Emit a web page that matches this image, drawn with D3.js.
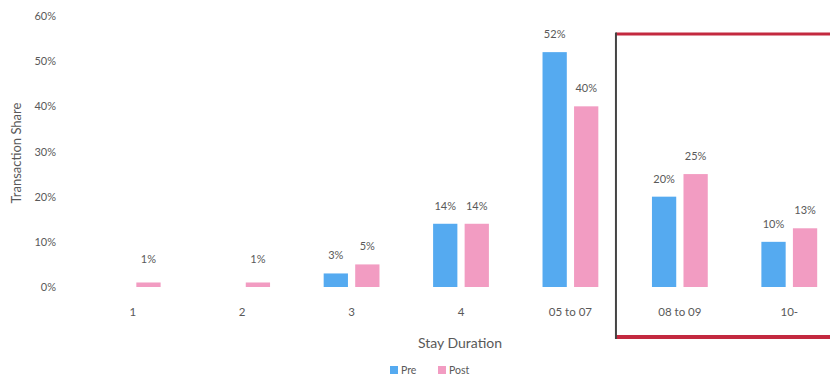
<!DOCTYPE html>
<html>
<head>
<meta charset="utf-8">
<script src="https://cdn.jsdelivr.net/npm/d3@7"></script>
<style>
  html, body { margin: 0; padding: 0; background: #fff; }
  svg { display: block; }
  text { font-family: Lato, "Open Sans", sans-serif; fill: #595959; }
</style>
</head>
<body>
<svg id="chart" width="830" height="380"></svg>
<script>
// Stay duration buckets and transaction share (%) before / after
const categories = ["1", "2", "3", "4", "05 to 07", "08 to 09", "10-"];
const preValues  = [0, 0, 3, 14, 52, 20, 10];
const postValues = [1, 1, 5, 14, 40, 25, 13];
const seriesNames = ["Pre", "Post"];
const yTicks = [0, 10, 20, 30, 40, 50, 60];
const highlighted = ["08 to 09", "10-"];

const colors = { Pre: "#55aaf0", Post: "#f29cc2" };

const svg = d3.select("#chart");

const x0 = d3.scaleBand()
  .domain(categories)
  .range([78, 844])
  .paddingInner(0.49)
  .paddingOuter(0.245);

const x1 = d3.scaleBand()
  .domain(seriesNames)
  .range([0, x0.bandwidth()])
  .paddingInner(0.23);

const y = d3.scaleLinear().domain([0, 60]).range([287, 16]);

const rows = categories.map((c, i) => ({
  cat: c,
  vals: [
    { s: "Pre", v: preValues[i] },
    { s: "Post", v: postValues[i] }
  ]
}));

// Y axis labels only (no line, no ticks)
const yAxis = svg.append("g")
  .attr("transform", "translate(56,0)")
  .call(d3.axisLeft(y).tickValues(yTicks).tickFormat(d => d + "%").tickSize(0).tickPadding(0));
yAxis.select(".domain").remove();
yAxis.selectAll("text")
  .style("font-family", "Lato, sans-serif")
  .style("font-size", "11px")
  .attr("fill", "#767676");

// X axis labels
const xAxis = svg.append("g")
  .attr("transform", "translate(0,300)")
  .call(d3.axisBottom(x0).tickSize(0).tickPadding(8));
xAxis.select(".domain").remove();
xAxis.selectAll("text")
  .style("font-family", "Lato, sans-serif")
  .style("font-size", "11.5px")
  .attr("fill", "#666");

// Bars
const groups = svg.append("g").selectAll("g")
  .data(rows).join("g")
  .attr("transform", d => `translate(${x0(d.cat)},0)`);

groups.selectAll("rect")
  .data(d => d.vals).join("rect")
  .attr("x", d => x1(d.s))
  .attr("width", x1.bandwidth())
  .attr("y", d => y(d.v))
  .attr("height", d => y(0) - y(d.v))
  .attr("fill", d => colors[d.s]);

// Value labels
groups.selectAll("text.val")
  .data(d => d.vals.filter(e => e.v > 0)).join("text")
  .attr("class", "val")
  .attr("x", d => x1(d.s) + x1.bandwidth() / 2)
  .attr("y", d => y(d.v) - (d.v < 2 ? 19 : 14))
  .attr("text-anchor", "middle")
  .style("font-size", "11px")
  .attr("fill", "#404040")
  .text(d => d.v + "%");

// Axis titles
svg.append("text")
  .attr("transform", "translate(21,153) rotate(-90)")
  .attr("text-anchor", "middle")
  .style("font-size", "13px")
  .attr("fill", "#8a8a8a")
  .text("Transaction Share");

svg.append("text")
  .attr("x", 460)
  .attr("y", 348)
  .attr("text-anchor", "middle")
  .style("font-size", "14px")
  .attr("fill", "#595959")
  .text("Stay Duration");

// Legend
const legend = svg.append("g").attr("transform", "translate(390,366)");
const legendItems = legend.selectAll("g")
  .data(seriesNames).join("g")
  .attr("transform", (d, i) => `translate(${i * 48},0)`);
legendItems.append("rect")
  .attr("width", 8).attr("height", 8)
  .attr("fill", d => colors[d]);
legendItems.append("text")
  .attr("x", 11).attr("y", 8)
  .style("font-size", "10.5px")
  .attr("fill", "#595959")
  .text(d => d);

// Highlight frame around the longer stays
const hx = x0(highlighted[0]) - 36;
const hTop = 34, hBottom = 337;
svg.append("line")
  .attr("x1", hx).attr("x2", 832)
  .attr("y1", hTop).attr("y2", hTop)
  .attr("stroke", "#c3293f").attr("stroke-width", 3);
svg.append("line")
  .attr("x1", hx).attr("x2", 832)
  .attr("y1", hBottom).attr("y2", hBottom)
  .attr("stroke", "#c3293f").attr("stroke-width", 4);
svg.append("line")
  .attr("x1", hx).attr("x2", hx)
  .attr("y1", hTop - 1.5).attr("y2", hBottom + 2)
  .attr("stroke", "#444").attr("stroke-width", 2);
</script>
</body>
</html>
